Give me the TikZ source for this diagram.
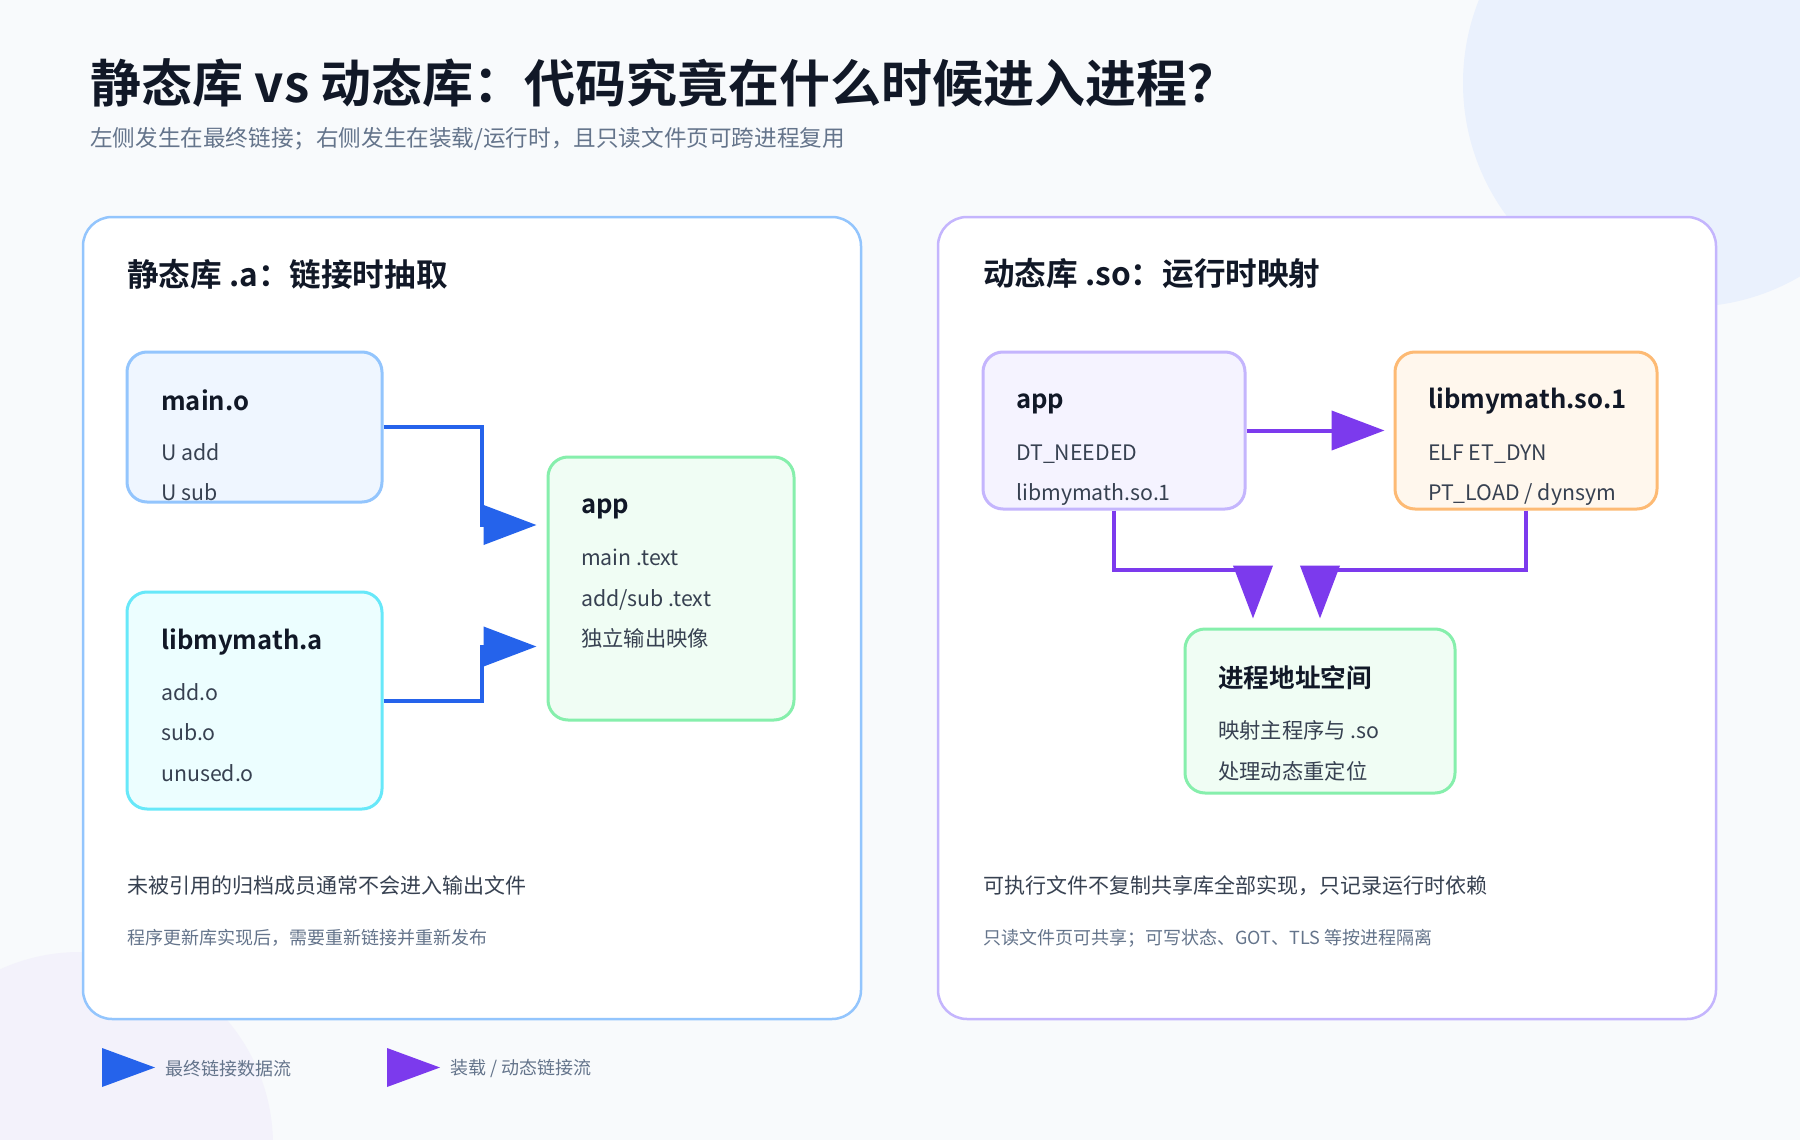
\documentclass[tikz,border=0pt]{standalone}
\usepackage{fontspec}
\setmainfont{Noto Sans CJK SC}[BoldFont={Noto Sans CJK SC Bold}]
\usepackage{tikz}
\usetikzlibrary{positioning}
\usetikzlibrary{arrows.meta}
\definecolor{pagebg}{HTML}{F8FAFC}
\definecolor{blobblue}{HTML}{EAF1FD}
\definecolor{blobviolet}{HTML}{F3F2FB}
\definecolor{inkdark}{HTML}{111827}
\definecolor{inkbody}{HTML}{374151}
\definecolor{inkmuted}{HTML}{64748B}
\definecolor{linkblue}{HTML}{2563EB}
\definecolor{loadpurple}{HTML}{7C3AED}
\definecolor{bluerim}{HTML}{93C5FD}
\definecolor{bluefill}{HTML}{EFF6FF}
\definecolor{cyanrim}{HTML}{67E8F9}
\definecolor{cyanfill}{HTML}{ECFEFF}
\definecolor{greenrim}{HTML}{86EFAC}
\definecolor{greenfill}{HTML}{F0FDF4}
\definecolor{violetrim}{HTML}{C4B5FD}
\definecolor{violetfill}{HTML}{F5F3FF}
\definecolor{orangerim}{HTML}{FDBA74}
\definecolor{orangefill}{HTML}{FFF7ED}

\begin{document}
\begin{tikzpicture}[x=1pt,y=1pt]
		\tikzset{panel/.style={draw, line width=2.5pt, fill=white, rounded corners=29pt, minimum width=778pt, minimum height=802pt}}
		\tikzset{card/.style={draw, line width=3pt, rounded corners=20pt, inner sep=0pt}}
		\tikzset{cardhead/.style={anchor=west, inner sep=0pt, text=inkdark, font=\bfseries\fontsize{25.6}{30}\selectfont}}
		\tikzset{cardline/.style={anchor=west, inner sep=0pt, text=inkbody, font=\fontsize{21.3}{25}\selectfont}}
		\tikzset{linkflow/.style={draw=linkblue, line width=4pt, -{Triangle[length=53pt,width=39pt]}, shorten >=10pt}}
		\tikzset{loadflow/.style={draw=loadpurple, line width=4pt, -{Triangle[length=53pt,width=39pt]}, shorten >=9pt}}
		\tikzset{legendtext/.style={inner sep=0pt, text=inkmuted, font=\fontsize{18}{22}\selectfont}}
		% canvas
		\useasboundingbox (0,0) rectangle (1800,-1140);
		\fill[pagebg] (0,0) rectangle (1800,-1140);
		\begin{scope}
			\clip (0,0) rectangle (1800,-1140);
			\fill[blobblue] (1687,-83) circle (224);
			\fill[blobviolet] (80,-1145) circle (193);
		\end{scope}
		% heading
		\node[anchor=west, inner sep=0pt, text=inkdark, font=\bfseries\fontsize{51}{60}\selectfont] (heading) at (90,-83) {静态库 vs 动态库：代码究竟在什么时候进入进程？};
		\node[anchor=west, inner sep=0pt, text=inkmuted, font=\fontsize{22.6}{27}\selectfont] (subheading) at (90,-139) {左侧发生在最终链接；右侧发生在装载/运行时，且只读文件页可跨进程复用};
		% panels
		\node[panel, draw=bluerim] (staticpanel) at (472,-618) {};
		\node[panel, draw=violetrim] (dynpanel) at (1327,-618) {};
		\node[anchor=west, inner sep=0pt, text=inkdark, font=\bfseries\fontsize{31.6}{38}\selectfont] (statictitle) at (127,-274) {静态库 .a：链接时抽取};
		\node[anchor=west, inner sep=0pt, text=inkdark, font=\bfseries\fontsize{31.6}{38}\selectfont] (dyntitle) at (983,-274) {动态库 .so：运行时映射};
		% static side
		\node[card, draw=bluerim, fill=bluefill, minimum width=255pt, minimum height=150pt] (mainobox) at (254.5,-427) {};
		\node[cardhead] (mainohead) at (161,-400) {main.o};
		\node[cardline] (mainoadd) at (161,-452) {U add};
		\node[cardline] (mainosub) at (161,-492) {U sub};
		\node[card, draw=cyanrim, fill=cyanfill, minimum width=255pt, minimum height=217pt] (libabox) at (254.5,-700.5) {};
		\node[cardhead] (libahead) at (161,-642) {libmymath.a};
		\node[cardline] (libaadd) at (161,-692) {add.o};
		\node[cardline] (libasub) at (161,-732) {sub.o};
		\node[cardline] (libaunused) at (161,-773) {unused.o};
		\node[card, draw=greenrim, fill=greenfill, minimum width=246pt, minimum height=263pt] (appbox) at (671,-588.5) {};
		\node[cardhead] (apphead) at (581,-509) {app};
		\node[cardline] (appmain) at (581,-557) {main .text};
		\node[cardline] (appaddsub) at (581,-600) {add/sub .text};
		\node[cardline] (appimage) at (581,-638) {独立输出映像};
		\draw[linkflow] (mainobox.east) -| ++(98,-98) -- ([yshift=63.5pt]appbox.west);
		\draw[linkflow] (libabox.east) -| ++(98,54) -- ([yshift=-58pt]appbox.west);
		\node[anchor=west, inner sep=0pt, text=inkbody, font=\fontsize{21}{25}\selectfont] (staticnote) at (127,-886) {未被引用的归档成员通常不会进入输出文件};
		\node[anchor=west, inner sep=0pt, text=inkmuted, font=\fontsize{18}{22}\selectfont] (staticaside) at (127,-938) {程序更新库实现后，需要重新链接并重新发布};
		% dynamic side
		\node[card, draw=violetrim, fill=violetfill, minimum width=262pt, minimum height=157pt] (dappbox) at (1114,-430.5) {};
		\node[cardhead] (dapphead) at (1016,-404) {app};
		\node[cardline] (dappneeded) at (1016,-454) {DT\_NEEDED};
		\node[cardline] (dappsoname) at (1016,-495) {libmymath.so.1};
		\node[card, draw=orangerim, fill=orangefill, minimum width=262pt, minimum height=157pt] (solibbox) at (1526,-430.5) {};
		\node[cardhead] (solibhead) at (1428,-401) {libmymath.so.1};
		\node[cardline] (solibelf) at (1428,-454) {ELF ET\_DYN};
		\node[cardline] (solibload) at (1428,-495) {PT\_LOAD / dynsym};
		\node[card, draw=greenrim, fill=greenfill, minimum width=270pt, minimum height=164pt] (procbox) at (1320,-711) {};
		\node[cardhead] (prochead) at (1218,-678) {进程地址空间};
		\node[cardline] (procmap) at (1218,-730) {映射主程序与 .so};
		\node[cardline] (procreloc) at (1218,-771) {处理动态重定位};
		\draw[loadflow] (dappbox.east) -- (solibbox.west);
		\draw[loadflow] (dappbox.south) -- ++(0,-59) -| ([xshift=-67pt]procbox.north);
		\draw[loadflow] (solibbox.south) -- ++(0,-59) -| (procbox.north);
		\node[anchor=west, inner sep=0pt, text=inkbody, font=\fontsize{21}{25}\selectfont] (dynnote) at (983,-886) {可执行文件不复制共享库全部实现，只记录运行时依赖};
		\node[anchor=west, inner sep=0pt, text=inkmuted, font=\fontsize{18}{22}\selectfont] (dynaside) at (983,-938) {只读文件页可共享；可写状态、GOT、TLS 等按进程隔离};
		% legend
		\fill[linkblue] (102,-1048) -- (155,-1067.5) -- (102,-1087) -- cycle;
		\coordinate (legstatic) at (155,-1069);
		\node[legendtext, right=10pt of legstatic] (legstatictext) {最终链接数据流};
		\fill[loadpurple] (387,-1048) -- (440,-1067.5) -- (387,-1087) -- cycle;
		\coordinate (legdyn) at (440,-1069);
		\node[legendtext, right=10pt of legdyn] (legdyntext) {装载 / 动态链接流};
	\end{tikzpicture}
\end{document}
